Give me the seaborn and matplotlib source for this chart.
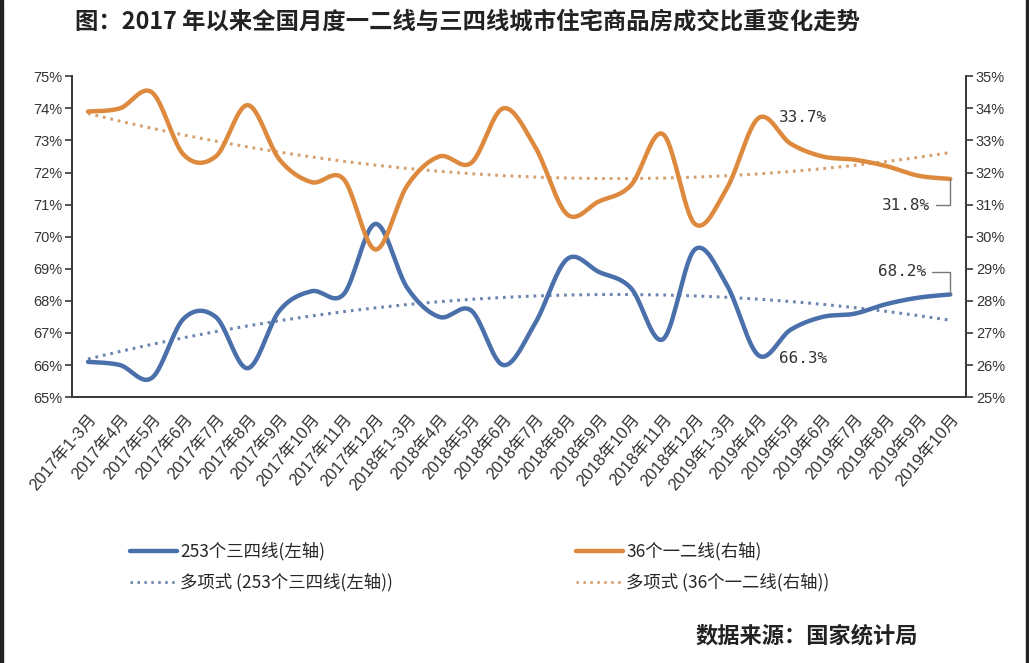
import numpy as np
import pandas as pd
import seaborn as sns
import matplotlib.pyplot as plt
from matplotlib.lines import Line2D
from matplotlib.patches import Rectangle

# data (percent)
months = ["2017年1-3月", "2017年4月", "2017年5月", "2017年6月", "2017年7月",
          "2017年8月", "2017年9月", "2017年10月", "2017年11月", "2017年12月",
          "2018年1-3月", "2018年4月", "2018年5月", "2018年6月", "2018年7月",
          "2018年8月", "2018年9月", "2018年10月", "2018年11月", "2018年12月",
          "2019年1-3月", "2019年4月", "2019年5月", "2019年6月", "2019年7月",
          "2019年8月", "2019年9月", "2019年10月"]
tier34 = [66.1, 66.0, 65.6, 67.45, 67.5, 65.9, 67.7, 68.3, 68.2, 70.4,
          68.4, 67.5, 67.7, 66.0, 67.3, 69.3, 68.9, 68.4, 66.8, 69.6,
          68.5, 66.3, 67.1, 67.5, 67.6, 67.9, 68.1, 68.2]
tier12 = [33.9, 34.0, 34.5, 32.55, 32.5, 34.1, 32.4, 31.7, 31.8, 29.6,
          31.6, 32.5, 32.3, 34.0, 32.8, 30.7, 31.1, 31.6, 33.2, 30.4,
          31.5, 33.7, 32.9, 32.5, 32.4, 32.2, 31.9, 31.8]
left_ticks = [65, 66, 67, 68, 69, 70, 71, 72, 73, 74, 75]
right_ticks = [25, 26, 27, 28, 29, 30, 31, 32, 33, 34, 35]

blue = "#4a70ab"
orange = "#de8a3e"
blue_dot = "#6d86b0"
orange_dot = "#d69f6e"


def smooth(vals, steps=20):
    # excel-like smoothed line (cubic bezier through every point)
    p = np.array(vals, dtype=float)
    x = np.arange(len(p), dtype=float)
    xs, ys = [], []
    for i in range(len(p) - 1):
        i0 = max(i - 1, 0)
        i3 = min(i + 2, len(p) - 1)
        c1x = x[i] + (x[i + 1] - x[i0]) / 6
        c1y = p[i] + (p[i + 1] - p[i0]) / 6
        c2x = x[i + 1] - (x[i3] - x[i]) / 6
        c2y = p[i + 1] - (p[i3] - p[i]) / 6
        t = np.linspace(0, 1, steps, endpoint=False)
        b0, b1, b2, b3 = (1 - t) ** 3, 3 * t * (1 - t) ** 2, 3 * t ** 2 * (1 - t), t ** 3
        xs.extend(b0 * x[i] + b1 * c1x + b2 * c2x + b3 * x[i + 1])
        ys.extend(b0 * p[i] + b1 * c1y + b2 * c2y + b3 * p[i + 1])
    xs.append(x[-1])
    ys.append(p[-1])
    return pd.DataFrame({"x": xs, "y": ys})


idx = np.arange(len(months))
trend34 = np.polyval(np.polyfit(idx, tier34, 2), idx)
trend12 = np.polyval(np.polyfit(idx, tier12, 2), idx)

sns.set_theme(style="white")
plt.rcParams["font.family"] = ["Liberation Sans", "Noto Sans CJK SC", "DejaVu Sans"]

fig = plt.figure(figsize=(10.29, 6.63), dpi=100)
ax = fig.add_axes([0.070, 0.401, 0.869, 0.484])
ax2 = ax.twinx()

sns.lineplot(data=pd.DataFrame({"x": idx, "y": trend34}), x="x", y="y", ax=ax,
             color=blue_dot, lw=2.2, linestyle=(0, (0.9, 1.6)), estimator=None)
sns.lineplot(data=smooth(tier34), x="x", y="y", ax=ax, color=blue, lw=3.2,
             estimator=None, sort=False)
sns.lineplot(data=pd.DataFrame({"x": idx, "y": trend12}), x="x", y="y", ax=ax2,
             color=orange_dot, lw=2.2, linestyle=(0, (0.9, 1.6)), estimator=None)
sns.lineplot(data=smooth(tier12), x="x", y="y", ax=ax2, color=orange, lw=3.2,
             estimator=None, sort=False)

for a, ticks in ((ax, left_ticks), (ax2, right_ticks)):
    a.set_ylim(ticks[0], ticks[-1])
    a.set_yticks(ticks)
    a.set_yticklabels([f"{t}%" for t in ticks], fontsize=10.5, color="#333333")
    a.set_xlim(-0.5, len(months) - 0.5)
    a.set_xlabel("")
    a.set_ylabel("")
    a.grid(False)
    a.spines["top"].set_visible(False)
    for s in ("left", "right", "bottom"):
        a.spines[s].set_color("#3a3a3a")
        a.spines[s].set_linewidth(1.3)

ax.tick_params(axis="y", left=True, direction="out", length=5, width=1.2, color="#3a3a3a", pad=2)
ax2.tick_params(axis="y", right=True, direction="out", length=5, width=1.2, color="#3a3a3a", pad=2)
ax.set_xticks(idx)
ax.set_xticklabels(months, rotation=50, ha="right", rotation_mode="anchor",
                   fontsize=12, color="#333333")
ax.tick_params(axis="x", bottom=False, pad=4)

# value labels
mono = ["DejaVu Sans Mono"]
ax2.text(22.4, 33.72, "33.7%", ha="center", va="center", fontsize=11.5, family=mono, color="#333333")
ax.text(22.4, 66.21, "66.3%", ha="center", va="center", fontsize=11.5, family=mono, color="#333333")
ax2.annotate("31.8%", xy=(len(months) - 1, tier12[-1]), xytext=(25.6, 30.98),
             ha="center", va="center", fontsize=11.5, family=mono, color="#333333",
             arrowprops=dict(arrowstyle="-", color="#777777", lw=1,
                             connectionstyle="angle,angleA=0,angleB=90,rad=0",
                             shrinkA=2, shrinkB=0))
ax.annotate("68.2%", xy=(len(months) - 1, tier34[-1]), xytext=(25.5, 68.9),
            ha="center", va="center", fontsize=11.5, family=mono, color="#333333",
            arrowprops=dict(arrowstyle="-", color="#777777", lw=1,
                            connectionstyle="angle,angleA=0,angleB=90,rad=0",
                            shrinkA=2, shrinkB=0))

# legend in two blocks
cjk = {"family": ["Noto Sans CJK SC", "DejaVu Sans"], "size": 12.5}
h_left = [Line2D([], [], color=blue, lw=3.2),
          Line2D([], [], color=blue_dot, lw=2, linestyle=(0, (0.9, 1.6)))]
h_right = [Line2D([], [], color=orange, lw=3.2),
           Line2D([], [], color=orange_dot, lw=2, linestyle=(0, (0.9, 1.6)))]
fig.legend(h_left, ["253个三四线(左轴)", "多项式 (253个三四线(左轴))"],
           loc="upper left", bbox_to_anchor=(0.118, 0.195), frameon=False,
           prop=cjk, handlelength=2.7, handletextpad=0.2, labelspacing=0.7, borderpad=0)
fig.legend(h_right, ["36个一二线(右轴)", "多项式 (36个一二线(右轴))"],
           loc="upper left", bbox_to_anchor=(0.551, 0.195), frameon=False,
           prop=cjk, handlelength=2.7, handletextpad=0.2, labelspacing=0.7, borderpad=0)

fig.text(0.073, 0.968, "图：2017 年以来全国月度一二线与三四线城市住宅商品房成交比重变化走势",
         fontsize=16.8, weight="bold", va="center", ha="left",
         family=["Noto Sans CJK SC", "DejaVu Sans"], color="#222222")
fig.text(0.892, 0.041, "数据来源：国家统计局", fontsize=16, weight="bold",
         va="center", ha="right", family=["Noto Sans CJK SC", "DejaVu Sans"], color="#222222")

# dark frame edges of the screenshot
fig.patches.append(Rectangle((0, 0), 0.003, 1, transform=fig.transFigure, color="#222222"))
fig.patches.append(Rectangle((0.997, 0), 0.003, 1, transform=fig.transFigure, color="#222222"))

plt.savefig("out.png", dpi=100)
